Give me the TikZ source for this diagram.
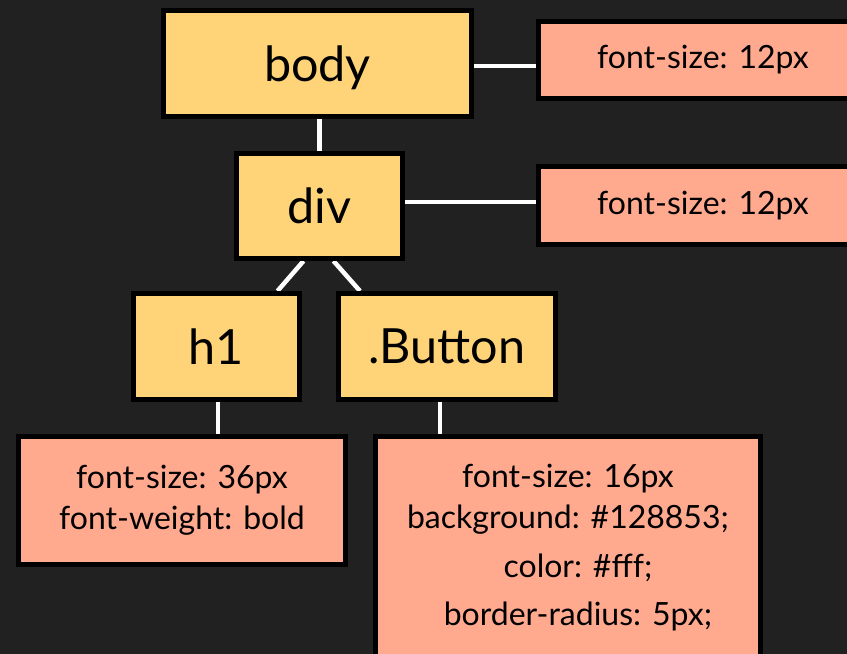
\documentclass[tikz,border=0pt]{standalone}
\usepackage{fontspec}
\setmainfont{Lato}
\usetikzlibrary{backgrounds}
\definecolor{bgdark}{HTML}{212121}
\definecolor{tagyellow}{HTML}{FFD479}
\definecolor{propsalmon}{HTML}{FFA98F}

\begin{document}
\begin{tikzpicture}[x=1pt,y=-1pt,
  tag/.style={draw=black, line width=5pt, fill=tagyellow, inner sep=0pt,
    font=\fontsize{48.5}{56}\selectfont, text depth=0pt},
  props/.style={draw=black, line width=5pt, fill=propsalmon, inner sep=0pt,
    font=\fontsize{32}{41}\selectfont, align=center},
  link/.style={draw=white, line width=4.5pt}]
% Fix the page to the size of the screenshot
\useasboundingbox (0,0) rectangle (847,654);
\clip (0,0) rectangle (847,654);
% The selectors of the tree
\node[tag, minimum width=308pt, minimum height=106pt] (body) at (317.5,63.5) {body};
\node[tag, minimum width=166pt, minimum height=105pt] (div) at (319.5,206) {div};
\node[tag, minimum width=166pt, minimum height=106pt] (h1) at (216.5,346.5) {h1};
\node[tag, minimum width=217pt, minimum height=106pt] (btn) at (447,346.5) {.Button};
% The styles that each selector gets
\node[props, minimum width=329pt, minimum height=77pt] (bodyprops) at (703,60) {font-size: 12px};
\node[props, minimum width=329pt, minimum height=78pt] (divprops) at (703,205.5) {font-size: 12px};
\node[props, minimum width=327pt, minimum height=128pt] (h1props) at (182,500.5)
  {font-size: 36px\\ font-weight: bold};
% this one runs off the bottom of the page
\node[props, minimum width=385pt, minimum height=222pt] (btnprops) at (568,547.5)
  {font-size: 16px\\ background: \#128853;\\[8pt]
   \hspace*{20pt}color: \#fff;\\[7pt] \hspace*{20pt}border-radius: 5px;};
% Links go behind the boxes
\begin{scope}[on background layer]
\fill[bgdark] (0,0) rectangle (847,654);
\draw[link] (div.north |- body.south) -- (div.north);
\draw[link] ([yshift=-2.5pt]body.east) -- ([yshift=-2.5pt]body.east -| bodyprops.west);
\draw[link] ([yshift=4pt]div.east) -- ([yshift=4pt]div.east -| divprops.west);
\draw[link] ([xshift=-16pt]div.south) -- ([xshift=61pt]h1.north);
\draw[link] ([xshift=14pt]div.south) -- ([xshift=-87pt]btn.north);
\draw[link] ([xshift=1.5pt]h1.south) -- ([xshift=1.5pt]h1.south |- h1props.north);
\draw[link] ([xshift=-7pt]btn.south) -- ([xshift=-7pt]btn.south |- btnprops.north);
\end{scope}
\end{tikzpicture}
\end{document}
